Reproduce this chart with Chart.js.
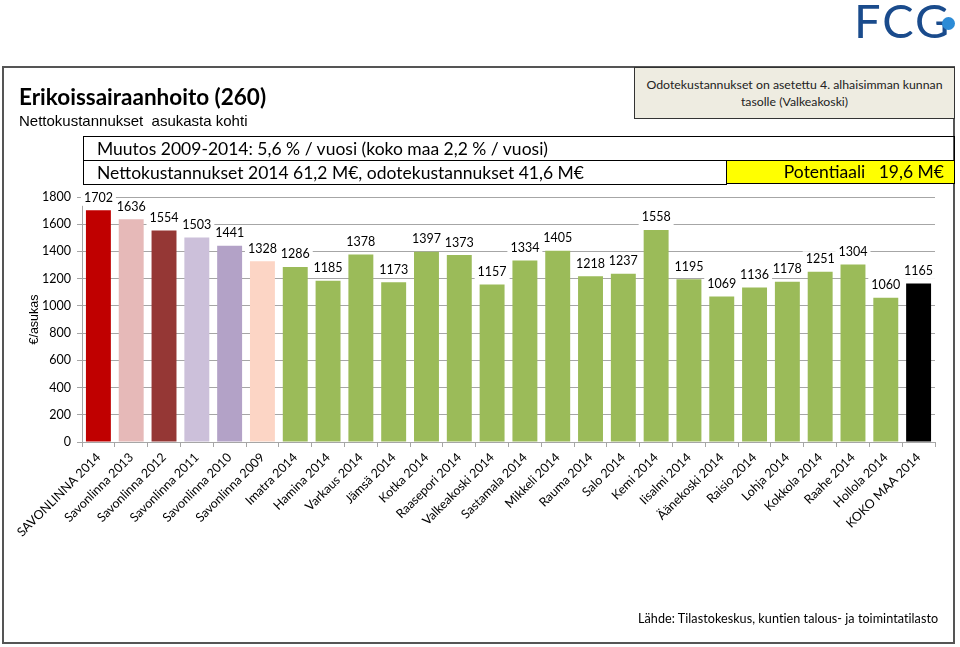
<!DOCTYPE html>
<html>
<head>
<meta charset="utf-8">
<script src="https://cdn.jsdelivr.net/npm/chart.js@4.4.1/dist/chart.umd.min.js"></script>
<style>
  body { margin: 0; background: #fff; }
  #wrap { position: relative; width: 960px; height: 647px; overflow: hidden; font-family: Lato, sans-serif; }
  #wrap canvas { position: absolute; left: 0; top: 0; }
  .abs { position: absolute; box-sizing: border-box; }
  #frame { left: 2px; top: 66px; width: 953px; height: 578px; border: 2px solid #555; }
  #title { left: 19px; top: 83px; font-size: 22.5px; font-weight: bold; color: #000; white-space: nowrap; }
  #subtitle { left: 19px; top: 112px; font-family: "Liberation Sans", Arial, sans-serif; font-size: 15px; color: #000; white-space: nowrap; }
  #note { left: 634px; top: 67px; width: 321px; height: 52px; background: #eeece1; border: 1.5px solid #333;
          font-size: 12.3px; color: #222; text-align: center; line-height: 17px; padding-top: 8px; white-space: nowrap; }
  .row { border: 1px solid #000; height: 25px; font-size: 17.5px; line-height: 23px; padding-left: 13px; white-space: nowrap; color: #000; }
  #row1 { left: 83px; top: 136px; width: 872px; }
  #row2 { left: 83px; top: 160px; width: 644px; }
  #pot { left: 726px; top: 160px; width: 229px; height: 24px; background: #ffff00; border: 1px solid #000; font-size: 17.5px; line-height: 22px; text-align: right; padding-right: 10px; white-space: pre; }
  #source { left: 638px; top: 611px; font-size: 12.6px; color: #000; white-space: nowrap; letter-spacing: 0.05px; }
  #logo { left: 854px; top: -8px; font-size: 47px; color: #1a4b8c; letter-spacing: 2px; }
  #dot { left: 942px; top: 17px; width: 13px; height: 13px; border-radius: 50%; background: #2c8bd6; }
</style>
</head>
<body>
<div id="wrap">
  <div class="abs" id="frame"></div>
  <canvas id="chart" width="960" height="647"></canvas>
  <div class="abs" id="title">Erikoissairaanhoito (260)</div>
  <div class="abs" id="subtitle">Nettokustannukset&nbsp; asukasta kohti</div>
  <div class="abs" id="note">Odotekustannukset on asetettu 4. alhaisimman kunnan<br>tasolle (Valkeakoski)</div>
  <div class="abs row" id="row1">Muutos 2009-2014: 5,6 % / vuosi (koko maa 2,2 % / vuosi)</div>
  <div class="abs row" id="row2">Nettokustannukset 2014 61,2 M€, odotekustannukset 41,6 M€</div>
  <div class="abs" id="pot">Potentiaali   19,6 M€</div>
  <div class="abs" id="source">Lähde: Tilastokeskus, kuntien talous- ja toimintatilasto</div>
  <div class="abs" id="logo">FCG</div>
  <div class="abs" id="dot"></div>
</div>
<script>
var kunnat = ["SAVONLINNA 2014", "Savonlinna 2013", "Savonlinna 2012", "Savonlinna 2011", "Savonlinna 2010",
  "Savonlinna 2009", "Imatra 2014", "Hamina 2014", "Varkaus 2014", "Jämsä 2014", "Kotka 2014", "Raasepori 2014",
  "Valkeakoski 2014", "Sastamala 2014", "Mikkeli 2014", "Rauma 2014", "Salo 2014", "Kemi 2014", "Iisalmi 2014",
  "Äänekoski 2014", "Raisio 2014", "Lohja 2014", "Kokkola 2014", "Raahe 2014", "Hollola 2014", "KOKO MAA 2014"];
var kustannukset = [1702, 1636, 1554, 1503, 1441, 1328, 1286, 1185, 1378, 1173, 1397, 1373,
  1157, 1334, 1405, 1218, 1237, 1558, 1195, 1069, 1136, 1178, 1251, 1304, 1060, 1165];
var yTicks = [0, 200, 400, 600, 800, 1000, 1200, 1400, 1600, 1800];

var green = '#9bbb59';
var vari = ['#c00000', '#e6b9b8', '#953735', '#ccc0da', '#b3a2c7', '#fcd5c5'];
for (var i = 6; i < kunnat.length - 1; i++) vari.push(green);
vari.push('#000000');

// arvot pylvaiden ylle valkoisella taustalla (kuten Excelissa)
var labelFont = '12.5px Lato';
var arvoLabelit = {
  id: 'arvoLabelit',
  beforeDatasetsDraw: function (chart) {
    var ctx = chart.ctx;
    ctx.save();
    ctx.font = labelFont;
    chart.getDatasetMeta(0).data.forEach(function (bar, i) {
      var t = String(kustannukset[i]);
      var w = ctx.measureText(t).width + 6;
      ctx.fillStyle = '#fff';
      ctx.fillRect(bar.x - w / 2, bar.y - 12.5 - 8, w, 16);
    });
    ctx.restore();
  },
  afterDatasetsDraw: function (chart) {
    var ctx = chart.ctx;
    ctx.save();
    ctx.font = labelFont;
    ctx.textAlign = 'center';
    ctx.textBaseline = 'middle';
    ctx.fillStyle = '#000';
    chart.getDatasetMeta(0).data.forEach(function (bar, i) {
      ctx.fillText(String(kustannukset[i]), bar.x, bar.y - 12.5);
    });
    ctx.restore();
  }
};

Chart.defaults.font.family = 'Lato';
Chart.defaults.color = '#000';

function piirra() {
  new Chart(document.getElementById('chart'), {
    type: 'bar',
    data: {
      labels: kunnat,
      datasets: [{
        data: kustannukset,
        backgroundColor: vari,
        barPercentage: 0.76,
        categoryPercentage: 1
      }]
    },
    options: {
      responsive: false,
      animation: false,
      layout: { padding: { left: 20, top: 197, right: 25, bottom: 0 } },
      plugins: { legend: { display: false }, tooltip: { enabled: false } },
      scales: {
        x: {
          grid: { display: true, drawOnChartArea: false, drawTicks: true, tickLength: 5, color: '#a6a6a6' },
          border: { color: '#a6a6a6' },
          ticks: { autoSkip: false, maxRotation: 45, minRotation: 45, font: { size: 12.5 }, padding: 3 },
          afterFit: function (s) { s.height = 205; }
        },
        y: {
          min: 0, max: 1800,
          afterBuildTicks: function (s) { s.ticks = yTicks.map(function (v) { return { value: v }; }); },
          grid: { color: '#a6a6a6', tickLength: 5 },
          border: { color: '#a6a6a6' },
          ticks: { font: { size: 12.5 }, padding: 6, callback: function (v) { return String(v); } },
          title: { display: true, text: '€/asukas', font: { family: 'Liberation Sans', size: 12.5 }, padding: { top: 7, bottom: 4 } },
          afterFit: function (s) { s.width = 62; }
        }
      }
    },
    plugins: [arvoLabelit]
  });
}

if (document.fonts && document.fonts.load) {
  Promise.all([document.fonts.load('13px Lato'), document.fonts.load('14px "Liberation Sans"')]).then(piirra, piirra);
} else {
  piirra();
}
</script>
</body>
</html>
